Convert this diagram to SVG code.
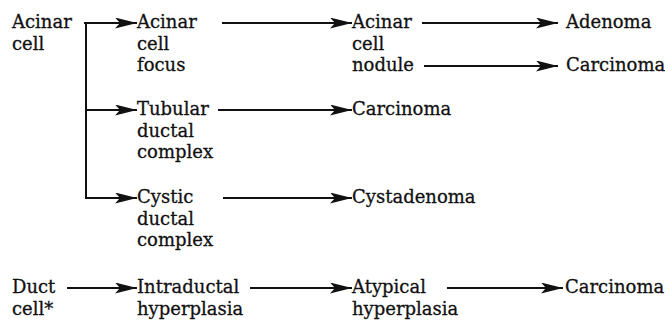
<svg xmlns="http://www.w3.org/2000/svg" width="665" height="322" viewBox="0 0 665 322">
<style>
text{font-family:"DejaVu Serif","Liberation Serif",serif;font-size:18px;fill:#111;stroke:#111;stroke-width:0.3}
.c{fill:none;stroke:#111;stroke-width:2}
</style>
<defs>
<marker id="ah" markerUnits="userSpaceOnUse" markerWidth="22" markerHeight="11" refX="22" refY="5.5" orient="auto">
<path d="M0,0 L22,5.5 L0,11 L5,5.5 z" fill="#111"/>
</marker>
</defs>
<rect width="665" height="322" fill="#fff"/>
<g id="connectors">
<path class="c" d="M84,23 H86 V198 H137" marker-end="url(#ah)"/>
<path class="c" d="M86,23 H137" marker-end="url(#ah)"/>
<path class="c" d="M86,110 H137" marker-end="url(#ah)"/>
<path class="c" d="M222,23 H352" marker-end="url(#ah)"/>
<path class="c" d="M422,23 H558" marker-end="url(#ah)"/>
<path class="c" d="M424,66 H558" marker-end="url(#ah)"/>
<path class="c" d="M218,110 H352" marker-end="url(#ah)"/>
<path class="c" d="M223,198 H352" marker-end="url(#ah)"/>
<path class="c" d="M67,288 H137" marker-end="url(#ah)"/>
<path class="c" d="M250,288 H352" marker-end="url(#ah)"/>
<path class="c" d="M447,288 H563" marker-end="url(#ah)"/>
</g>
<g id="acinar-cell"><text x="12" y="28">Acinar</text><text x="12" y="49.5">cell</text></g>
<g id="acinar-cell-focus"><text x="137" y="28">Acinar</text><text x="137" y="49.5">cell</text><text x="137" y="71">focus</text></g>
<g id="acinar-cell-nodule"><text x="352" y="28">Acinar</text><text x="352" y="49.5">cell</text><text x="352" y="71">nodule</text></g>
<g id="adenoma"><text x="566" y="28">Adenoma</text></g>
<g id="carcinoma-1"><text x="566" y="71">Carcinoma</text></g>
<g id="tubular-ductal-complex"><text x="137" y="115">Tubular</text><text x="137" y="136.5">ductal</text><text x="137" y="158">complex</text></g>
<g id="carcinoma-2"><text x="352" y="115">Carcinoma</text></g>
<g id="cystic-ductal-complex"><text x="137" y="203">Cystic</text><text x="137" y="224.5">ductal</text><text x="137" y="246">complex</text></g>
<g id="cystadenoma"><text x="352" y="203">Cystadenoma</text></g>
<g id="duct-cell"><text x="12" y="293">Duct</text><text x="12" y="314.5">cell*</text></g>
<g id="intraductal-hyperplasia"><text x="137" y="293">Intraductal</text><text x="137" y="314.5">hyperplasia</text></g>
<g id="atypical-hyperplasia"><text x="352" y="293">Atypical</text><text x="352" y="314.5">hyperplasia</text></g>
<g id="carcinoma-3"><text x="565" y="293">Carcinoma</text></g>
</svg>
